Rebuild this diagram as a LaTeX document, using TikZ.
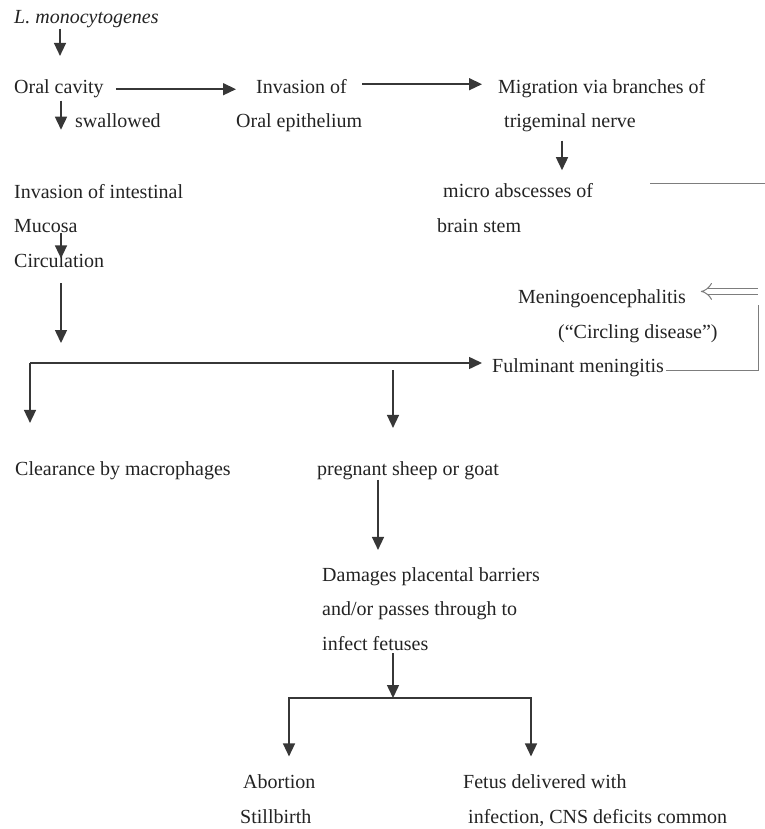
\documentclass[tikz,border=0pt]{standalone}
\usepackage{fontspec}
\setmainfont{Liberation Serif}
\usetikzlibrary{arrows.meta,positioning}

\definecolor{ink}{RGB}{35,35,35}
\definecolor{wire}{RGB}{55,55,55}

\begin{document}
\begin{tikzpicture}[x=1pt, y=-1pt, font=\fontsize{20}{34.5}\selectfont, text=ink,
  txt/.style={anchor=base west, inner sep=0pt, align=left},
  arr/.style={draw=wire, line width=1.5pt, -{Triangle[length=13pt,width=12pt]}},
  faint/.style={draw=wire!65, line width=1pt}]
  \useasboundingbox (0,0) rectangle (764,829);
  % oral route (multi-line nodes sit on their last line)
  \node[txt] (lmono) at (14,24) {\textit{L. monocytogenes}};
  \node[txt] (oral) at (14,94) {Oral cavity};
  \node[txt] (swal) at (75,128) {swallowed};
  \node[txt] (invoral) at (236,128) {\hspace*{20pt}Invasion of\\Oral epithelium};
  \node[txt] (migr) at (498,128) {Migration via branches of\\\hspace*{6pt}trigeminal nerve};
  \node[txt] (micro) at (437,232) {\hspace*{6pt}micro abscesses of\\brain stem};
  \node[txt] (menin) at (518,338) {Meningoencephalitis\\\hspace*{40pt}(“Circling disease”)};
  \node[txt] (fulm) at (492,372) {Fulminant meningitis};
  % gut route
  \node[txt] (intest) at (14,267) {Invasion of intestinal\\Mucosa\\Circulation};
  \node[txt] (clear) at (15,475) {Clearance by macrophages};
  \node[txt] (preg) at (317,475) {pregnant sheep or goat};
  \node[txt] (damage) at (322,650) {Damages placental barriers\\and/or passes through to\\infect fetuses};
  \node[txt] (abort) at (240,823) {\hspace*{3pt}Abortion\\Stillbirth};
  \node[txt] (fetus) at (463,823) {Fetus delivered with\\\hspace*{5pt}infection, CNS deficits common};
  \coordinate (split) at (30,363);
  \coordinate (fork) at (393,698);

  % connectors, top
  \draw[arr] ([xshift=46pt]lmono.south west) -- ([xshift=46pt,yshift=24pt]oral.north west);
  \draw[arr] ([xshift=12pt]oral.east) -- (oral.east -| invoral.west);
  \draw[arr] ([yshift=-5pt]invoral.north east) -- ([xshift=-16pt,yshift=-5pt]migr.north west);
  \draw[arr] ([xshift=47pt,yshift=-2pt]oral.south west) -- ([xshift=47pt,yshift=54pt]intest.north west);
  \draw[arr] ([xshift=64pt,yshift=-8pt]migr.south west) -- ([xshift=125pt,yshift=13pt]micro.north west);
  \draw[faint] ([xshift=57pt]micro.north east) -- ++(120,0);
  \draw[faint, double, double distance=5pt, -{Implies}] ([xshift=40pt,yshift=-2pt]menin.north east) -- ([xshift=-17pt,yshift=-2pt]menin.north east);
  \draw[faint] ([xshift=2pt,yshift=2pt]fulm.base east) -- ++(92,0) -- ++(0,-65);
  % connectors, gut
  \draw[arr] ([xshift=47pt,yshift=34pt]intest.south west) -- ([xshift=47pt,yshift=9pt]intest.south west);
  \draw[arr] ([xshift=47pt,yshift=-16pt]intest.south west) -- ([xshift=31pt,yshift=20pt]split);
  \draw[arr] (split) -- ([xshift=-10pt]split -| fulm.west);
  \draw[arr] (split) -- ([yshift=38pt]split |- clear.north);
  \draw[arr] ([xshift=363pt,yshift=-7pt]split) -- ([xshift=76pt,yshift=33pt]preg.north west);
  \draw[arr] ([xshift=61pt]preg.south west) -- ([xshift=56pt,yshift=17pt]damage.north west);
  \draw[arr] ([xshift=71pt,yshift=-3pt]damage.south west) -- (fork);
  \draw[arr] (fork) -| ([xshift=49pt,yshift=18pt]abort.north west);
  \draw[arr] (fork) -| ([xshift=68pt,yshift=18pt]fetus.north west);
\end{tikzpicture}
\end{document}
